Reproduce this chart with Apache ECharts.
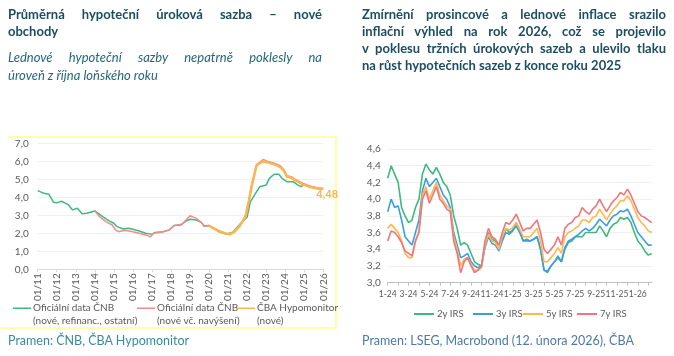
<!DOCTYPE html>
<html><head><meta charset="utf-8">
<script src="https://cdn.jsdelivr.net/npm/echarts@6/dist/echarts.min.js"></script>
<style>
html,body{margin:0;padding:0;background:#fff;}
#wrap{position:relative;width:674px;height:356px;overflow:hidden;font-family:Lato,'Open Sans',sans-serif;}
#chart{position:absolute;left:0;top:0;width:674px;height:356px;}
.t{position:absolute;white-space:nowrap;line-height:17px;height:17px;}
.j{text-align:justify;text-align-last:justify;white-space:normal;overflow:hidden;}
.h{font-size:13px;font-weight:bold;color:#1d4e60;}
.s{font-size:13px;font-style:italic;color:#23687a;}
.src{font-size:12.5px;}
</style></head>
<body>
<div id="wrap">
<div id="chart"></div>
<div class="t h j" style="left:8px;top:6px;width:314px;">Průměrná hypoteční úroková sazba – nové</div>
<div class="t h" style="left:8px;top:23px;">obchody</div>
<div class="t s j" style="left:8px;top:49px;width:314px;">Lednové hypoteční sazby nepatrně poklesly na</div>
<div class="t s" style="left:8px;top:67px;">úroveň z října loňského roku</div>
<div class="t h j" style="left:362px;top:6px;width:304px;">Zmírnění prosincové a lednové inflace srazilo</div>
<div class="t h j" style="left:362px;top:23px;width:304px;">inflační výhled na rok 2026, což se projevilo</div>
<div class="t h j" style="left:362px;top:40px;width:304px;">v poklesu tržních úrokových sazeb a ulevilo tlaku</div>
<div class="t h" style="left:362px;top:57px;">na růst hypotečních sazeb z konce roku 2025</div>
<div class="t src" style="left:8px;top:332px;color:#3a8aa0;">Pramen: ČNB, ČBA Hypomonitor</div>
<div class="t src" style="left:362px;top:332px;color:#4d7aa6;">Pramen: LSEG, Macrobond (12. února 2026), ČBA</div>
</div>
<script>
// ---------- Left chart data (monthly, 'YYYY-MM') ----------
const cnbAllDates = ['2011-01','2011-05','2011-08','2011-11','2012-01','2012-04','2012-08','2012-11','2013-02','2013-05','2013-08','2014-01','2014-02','2014-06','2014-10','2015-01','2015-03','2015-07','2015-10','2016-01','2016-05','2016-09','2017-01','2017-03','2017-08','2017-12','2018-03','2018-07','2018-10','2019-01','2019-05','2019-08','2019-10','2020-01','2020-04','2020-07','2020-12','2021-04','2021-07','2021-10','2022-01','2022-03','2022-07','2022-09','2023-01','2023-03','2023-06','2023-09','2023-11','2024-02','2024-06','2024-09','2024-11','2025-01','2025-04','2025-07','2025-10','2025-12'];
const cnbAllValues = [4.37,4.22,4.17,3.72,3.69,3.78,3.61,3.30,3.39,3.09,3.11,3.24,3.17,2.93,2.69,2.56,2.37,2.24,2.28,2.22,2.13,2.00,1.94,2.05,2.09,2.19,2.43,2.46,2.65,2.78,2.74,2.61,2.41,2.43,2.28,2.09,1.96,2.06,2.37,2.65,2.90,3.75,4.31,4.59,4.68,5.05,5.28,5.28,5.05,4.87,4.87,4.68,4.59,4.72,4.62,4.55,4.50,4.47];
const cnbNewDates = ['2014-01','2014-04','2014-08','2014-12','2015-02','2015-04','2015-08','2016-01','2016-05','2016-09','2016-12','2017-02','2017-07','2017-12','2018-03','2018-08','2018-10','2019-01','2019-05','2019-08','2019-10','2020-01','2020-03','2020-07','2020-11','2021-02','2021-05','2021-08','2021-10','2022-01','2022-02','2022-04','2022-07','2022-11','2023-03','2023-07','2023-10','2023-12','2024-02','2024-05','2024-08','2024-12','2025-04','2025-07','2025-11','2026-01'];
const cnbNewValues = [3.24,2.93,2.65,2.46,2.19,2.09,2.17,2.09,2.00,1.91,1.80,2.00,2.06,2.19,2.43,2.50,2.69,2.98,2.83,2.61,2.37,2.43,2.33,2.14,2.00,1.94,2.09,2.37,2.65,3.20,3.80,4.70,5.80,6.10,5.97,5.87,5.74,5.55,5.20,5.14,4.96,4.78,4.64,4.57,4.50,4.50];
const cbaDates = ['2020-01','2020-03','2020-07','2020-11','2021-02','2021-05','2021-08','2021-10','2021-12','2022-01','2022-02','2022-04','2022-07','2022-11','2023-03','2023-07','2023-10','2023-12','2024-02','2024-05','2024-08','2024-12','2025-04','2025-07','2025-11','2026-01'];
const cbaValues = [2.43,2.31,2.13,2.00,1.94,2.09,2.37,2.65,2.90,3.40,3.75,4.68,5.79,6.00,5.92,5.80,5.68,5.50,5.15,5.08,4.91,4.72,4.59,4.53,4.46,4.48];
const leftNames = ['Oficiální data ČNB\n(nové, refinanc., ostatní)','Oficiální data ČNB\n(nové vč. navýšení)','ČBA Hypomonitor\n(nové)'];

// ---------- Right chart data ----------
const irsDates = ['2024-01-01','2024-01-11','2024-01-21','2024-02-01','2024-02-11','2024-02-21','2024-03-01','2024-03-11','2024-03-21','2024-04-01','2024-04-11','2024-04-21','2024-05-01','2024-05-11','2024-05-21','2024-06-01','2024-06-11','2024-06-21','2024-07-01','2024-07-11','2024-07-21','2024-08-01','2024-08-11','2024-08-21','2024-09-01','2024-09-11','2024-09-21','2024-10-01','2024-10-11','2024-10-21','2024-11-01','2024-11-11','2024-11-21','2024-12-01','2024-12-11','2024-12-21','2025-01-01','2025-01-11','2025-01-21','2025-02-01','2025-02-11','2025-02-21','2025-03-01','2025-03-11','2025-03-21','2025-04-01','2025-04-11','2025-04-21','2025-05-01','2025-05-11','2025-05-21','2025-06-01','2025-06-11','2025-06-21','2025-07-01','2025-07-11','2025-07-21','2025-08-01','2025-08-11','2025-08-21','2025-09-01','2025-09-11','2025-09-21','2025-10-01','2025-10-11','2025-10-21','2025-11-01','2025-11-11','2025-11-21','2025-12-01','2025-12-11','2025-12-21','2026-01-01','2026-01-11','2026-01-21','2026-02-01','2026-02-11'];
const irs2y = [4.25,4.40,4.30,4.20,3.90,3.80,3.72,3.75,3.90,4.00,4.30,4.42,4.35,4.30,4.38,4.30,4.20,4.15,4.05,3.80,3.65,3.45,3.48,3.45,3.35,3.25,3.22,3.20,3.45,3.60,3.52,3.50,3.40,3.52,3.65,3.60,3.63,3.72,3.62,3.50,3.52,3.50,3.52,3.55,3.40,3.15,3.12,3.20,3.25,3.32,3.25,3.40,3.48,3.50,3.55,3.55,3.55,3.60,3.60,3.60,3.60,3.68,3.62,3.55,3.65,3.70,3.72,3.78,3.76,3.78,3.72,3.60,3.50,3.45,3.38,3.33,3.35];
const irs3y = [3.85,4.00,3.90,3.92,3.75,3.55,3.50,3.45,3.60,3.75,4.10,4.25,4.15,4.20,4.25,4.15,4.05,4.00,3.90,3.60,3.45,3.30,3.32,3.35,3.25,3.20,3.18,3.20,3.42,3.55,3.47,3.45,3.38,3.50,3.60,3.58,3.62,3.68,3.60,3.50,3.50,3.50,3.52,3.55,3.40,3.15,3.14,3.20,3.25,3.30,3.25,3.42,3.50,3.52,3.55,3.58,3.62,3.65,3.62,3.65,3.70,3.76,3.72,3.68,3.75,3.80,3.82,3.86,3.85,3.88,3.80,3.70,3.60,3.55,3.50,3.45,3.45];
const irs5y = [3.65,3.70,3.65,3.60,3.50,3.35,3.30,3.30,3.50,3.62,4.05,4.15,4.00,4.10,4.20,4.05,3.98,3.92,3.88,3.55,3.40,3.20,3.28,3.30,3.22,3.15,3.15,3.18,3.45,3.58,3.50,3.48,3.40,3.55,3.65,3.63,3.66,3.72,3.64,3.55,3.55,3.55,3.60,3.65,3.50,3.25,3.25,3.30,3.35,3.42,3.35,3.55,3.60,3.62,3.65,3.68,3.75,3.75,3.72,3.78,3.80,3.88,3.82,3.75,3.82,3.88,3.92,3.98,3.98,4.04,3.98,3.88,3.78,3.72,3.68,3.62,3.60];
const irs7y = [3.50,3.62,3.60,3.55,3.48,3.38,3.35,3.32,3.50,3.60,4.00,4.10,3.95,4.05,4.15,4.00,3.95,3.88,3.85,3.50,3.35,3.12,3.25,3.30,3.20,3.12,3.15,3.20,3.50,3.65,3.55,3.52,3.45,3.60,3.72,3.70,3.75,3.82,3.72,3.62,3.65,3.65,3.70,3.75,3.60,3.40,3.35,3.40,3.45,3.55,3.45,3.65,3.70,3.72,3.78,3.80,3.90,3.85,3.82,3.88,3.92,4.00,3.92,3.85,3.92,3.98,4.02,4.08,4.05,4.12,4.05,3.95,3.85,3.80,3.78,3.75,3.72];
const irsNames = ['2y IRS','3y IRS','5y IRS','7y IRS'];

// ---------- helpers ----------
function ym(s){const p=s.split('-');return +p[0]+(+p[1]-1)/12;}
function monthIdx(s){const p=s.split('-');return (+p[0]-2024)*12+(+p[1]-1)+(+p[2]-1)/30;}
function pairs(dates,vals,f){return dates.map((d,i)=>[f(d),vals[i]]);}
const comma = v => v.toFixed(1).replace('.',',');

const C_GREEN='#3dba80', C_RED='#f38b8f', C_ORANGE='#fbb54f';
const R_GREEN='#3fb97c', R_BLUE='#3c9de6', R_ORANGE='#ffb84e', R_RED='#f0767b';
const axisText={color:'#595959',fontSize:10,fontFamily:'Lato'};
const iconLine='path://M0,0H18V1.6H0ZM0,13H0.01V13.01H0Z';

const chart = echarts.init(document.getElementById('chart'),null,{renderer:'canvas'});

function legendItem(name,left,top){
  return {data:[name],left:left,top:top,padding:0,itemWidth:18,itemHeight:13,icon:iconLine,itemGap:0,
    textStyle:{color:'#595959',fontSize:10,lineHeight:13,fontFamily:'Lato',padding:[0,0,0,-3]}};
}
function legendR(name,left){
  return {data:[name],left:left,top:309,padding:0,itemWidth:20,itemHeight:2,icon:'rect',
    textStyle:{color:'#595959',fontSize:9.5,fontFamily:'Lato',padding:[0,0,0,-2]}};
}

chart.setOption({
  animation:false,
  legend:[
    legendItem(leftNames[0],13,301),
    legendItem(leftNames[1],137,301),
    legendItem(leftNames[2],237,301),
    legendR(irsNames[0],414),legendR(irsNames[1],473),legendR(irsNames[2],523),legendR(irsNames[3],577)
  ],
  grid:[
    {left:37.7,top:143.3,width:285.6,height:126},
    {left:387.7,top:149,width:264.2,height:133.7}
  ],
  xAxis:[
    {gridIndex:0,type:'value',min:2011,max:2026,interval:1,
     axisLine:{lineStyle:{color:'#d9d9d9'}},axisTick:{show:true,length:3,lineStyle:{color:'#d9d9d9'}},
     splitLine:{show:false},
     axisLabel:Object.assign({rotate:90,margin:4,formatter:v=>'01/'+String(v).slice(2)},axisText)},
    {gridIndex:1,type:'value',min:0,max:25.35,interval:1,
     axisLine:{lineStyle:{color:'#bfbfbf'}},axisTick:{show:true,length:3,lineStyle:{color:'#bfbfbf'}},
     splitLine:{show:false},
     axisLabel:Object.assign({},axisText,{fontSize:8.5,margin:7,showMaxLabel:false,formatter:v=>{if(Math.abs(v-Math.round(v))>1e-6||v%2!==0)return '';return ((v%12)+1)+'-'+(24+Math.floor(v/12));}})}
  ],
  yAxis:[
    {gridIndex:0,type:'value',min:0,max:7,interval:1,axisLine:{show:false},axisTick:{show:false},
     splitLine:{lineStyle:{color:'#f0f0f0'}},axisLabel:Object.assign({margin:9,formatter:comma},axisText)},
    {gridIndex:1,type:'value',min:3,max:4.6,interval:0.2,axisLine:{show:false},axisTick:{show:false},
     splitLine:{lineStyle:{color:'#f0f0f0'}},axisLabel:Object.assign({margin:7,formatter:comma},axisText)}
  ],
  graphic:[{type:'polyline',silent:true,shape:{points:[[8,137],[336,137],[336,328],[0,328]]},style:{stroke:'#ffff8a',lineWidth:1.5,fill:null}}],
  series:[
    {name:leftNames[0],type:'line',xAxisIndex:0,yAxisIndex:0,showSymbol:false,data:pairs(cnbAllDates,cnbAllValues,ym),lineStyle:{color:C_GREEN,width:1.5},itemStyle:{color:C_GREEN}},
    {name:leftNames[1],type:'line',xAxisIndex:0,yAxisIndex:0,showSymbol:false,data:pairs(cnbNewDates,cnbNewValues,ym),lineStyle:{color:C_RED,width:1.5},itemStyle:{color:C_RED}},
    {name:leftNames[2],type:'line',xAxisIndex:0,yAxisIndex:0,showSymbol:false,data:pairs(cbaDates,cbaValues,ym),lineStyle:{color:C_ORANGE,width:2.5},itemStyle:{color:C_ORANGE},
     endLabel:{show:true,distance:0,offset:[-7,6],color:C_ORANGE,fontWeight:'bold',fontSize:11,fontFamily:'Lato',formatter:p=>p.value[1].toFixed(2).replace('.',',')}},
    {name:irsNames[0],type:'line',xAxisIndex:1,yAxisIndex:1,showSymbol:false,data:pairs(irsDates,irs2y,monthIdx),lineStyle:{color:R_GREEN,width:1.6},itemStyle:{color:R_GREEN}},
    {name:irsNames[1],type:'line',xAxisIndex:1,yAxisIndex:1,showSymbol:false,data:pairs(irsDates,irs3y,monthIdx),lineStyle:{color:R_BLUE,width:1.6},itemStyle:{color:R_BLUE}},
    {name:irsNames[2],type:'line',xAxisIndex:1,yAxisIndex:1,showSymbol:false,data:pairs(irsDates,irs5y,monthIdx),lineStyle:{color:R_ORANGE,width:1.6},itemStyle:{color:R_ORANGE}},
    {name:irsNames[3],type:'line',xAxisIndex:1,yAxisIndex:1,showSymbol:false,data:pairs(irsDates,irs7y,monthIdx),lineStyle:{color:R_RED,width:1.6},itemStyle:{color:R_RED}}
  ]
});
</script>
</body></html>
